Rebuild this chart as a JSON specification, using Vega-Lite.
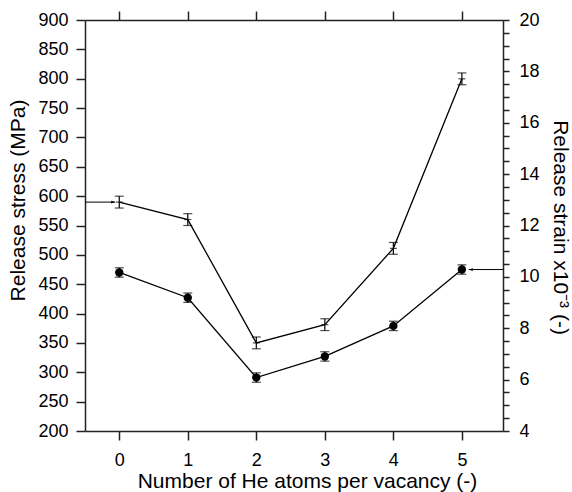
{
  "$schema": "https://vega.github.io/schema/vega-lite/v6.json",
  "width": 418,
  "height": 411,
  "autosize": {"type": "none"},
  "padding": {"left": 85, "top": 20, "right": 69, "bottom": 61},
  "background": "white",
  "config": {
    "font": "Liberation Sans",
    "view": {"stroke": null},
    "axis": {
      "grid": false,
      "domainColor": "#222",
      "domainWidth": 1.5,
      "tickColor": "#222",
      "tickWidth": 1.5,
      "labelFont": "Liberation Sans",
      "labelFontSize": 18,
      "labelColor": "#000",
      "labelOverlap": false,
      "labelFlush": false,
      "titleFont": "Liberation Sans",
      "titleFontSize": 21,
      "titleFontWeight": "normal",
      "titleColor": "#000"
    }
  },
  "datasets": {
    "stress": [
      {"n": 0, "stress": 470, "lo": 462, "hi": 478},
      {"n": 1, "stress": 427, "lo": 419, "hi": 435},
      {"n": 2, "stress": 291, "lo": 283, "hi": 299},
      {"n": 3, "stress": 327, "lo": 319, "hi": 335},
      {"n": 4, "stress": 379, "lo": 371, "hi": 387},
      {"n": 5, "stress": 475, "lo": 467, "hi": 483}
    ],
    "strain": [
      {"n": 0, "strain": 12.91, "lo": 12.68, "hi": 13.14},
      {"n": 1, "strain": 12.23, "lo": 12.0, "hi": 12.46},
      {"n": 2, "strain": 7.43, "lo": 7.2, "hi": 7.66},
      {"n": 3, "strain": 8.14, "lo": 7.91, "hi": 8.37},
      {"n": 4, "strain": 11.11, "lo": 10.88, "hi": 11.34},
      {"n": 5, "strain": 17.71, "lo": 17.48, "hi": 17.94}
    ],
    "arrowL": [{"x": -0.5, "x2": -0.06, "y": 12.91}],
    "arrowR": [{"x": 5.6, "x2": 5.1, "y": 475}]
  },
  "layer": [
    {
      "data": {"name": "stress"},
      "mark": {"type": "line", "color": "#000", "strokeWidth": 1.3},
      "encoding": {
        "x": {
          "field": "n", "type": "quantitative",
          "scale": {"domain": [-0.5, 5.6], "nice": false, "zero": false},
          "axis": {
            "orient": "bottom",
            "values": [0, 1, 2, 3, 4, 5],
            "format": "d",
            "tickSize": 9,
            "labelPadding": 11,
            "title": "Number of He atoms per vacancy (-)",
            "titleX": 222,
            "titleY": 56,
            "titleBaseline": "alphabetic",
            "titleAlign": "center"
          }
        },
        "y": {
          "field": "stress", "type": "quantitative",
          "scale": {"domain": [200, 900], "nice": false, "zero": false},
          "axis": {
            "orient": "left",
            "values": [200, 250, 300, 350, 400, 450, 500, 550, 600, 650, 700, 750, 800, 850, 900],
            "format": "d",
            "tickSize": 9,
            "labelPadding": 8,
            "title": "Release stress (MPa)",
            "titleAngle": 270,
            "titleX": -57,
            "titleY": 180,
            "titleBaseline": "bottom",
            "titleAlign": "center"
          }
        }
      }
    },
    {
      "data": {"name": "strain"},
      "mark": {"type": "line", "color": "#000", "strokeWidth": 1.3},
      "encoding": {
        "x": {
          "field": "n", "type": "quantitative",
          "scale": {"domain": [-0.5, 5.6], "nice": false, "zero": false},
          "axis": {
            "orient": "top",
            "values": [0, 1, 2, 3, 4, 5],
            "tickSize": 9,
            "labels": false,
            "title": null
          }
        },
        "y": {
          "field": "strain", "type": "quantitative",
          "scale": {"domain": [4, 20], "nice": false, "zero": false},
          "axis": {
            "orient": "right",
            "values": [4, 4.5, 5, 5.5, 6, 6.5, 7, 7.5, 8, 8.5, 9, 9.5, 10, 10.5, 11, 11.5, 12, 12.5, 13, 13.5, 14, 14.5, 15, 15.5, 16, 16.5, 17, 17.5, 18, 18.5, 19, 19.5, 20],
            "labelExpr": "datum.value % 2 === 0 ? format(datum.value, 'd') : ''",
            "tickSize": 6,
            "labelPadding": 10,
            "title": "Release strain x10⁻³ (-)",
            "titleAngle": 90,
            "titleX": 46,
            "titleY": 207,
            "titleBaseline": "bottom",
            "titleAlign": "center"
          }
        }
      }
    },
    {
      "data": {"name": "strain"},
      "mark": {"type": "tick", "orient": "horizontal", "color": "#000", "size": 7, "thickness": 1.2},
      "encoding": {
        "x": {"field": "n", "type": "quantitative", "axis": null, "scale": {"domain": [-0.5, 5.6], "nice": false, "zero": false}},
        "y": {"field": "strain", "type": "quantitative", "axis": null, "scale": {"domain": [4, 20], "nice": false, "zero": false}}
      }
    },
    {
      "data": {"name": "stress"},
      "mark": {"type": "rule", "color": "#000", "strokeWidth": 1.2},
      "encoding": {
        "x": {"field": "n", "type": "quantitative", "axis": null, "scale": {"domain": [-0.5, 5.6], "nice": false, "zero": false}},
        "y": {"field": "lo", "type": "quantitative", "axis": null, "scale": {"domain": [200, 900], "nice": false, "zero": false}},
        "y2": {"field": "hi"}
      }
    },
    {
      "data": {"name": "stress"},
      "mark": {"type": "tick", "orient": "horizontal", "color": "#000", "size": 9, "thickness": 1.2},
      "encoding": {
        "x": {"field": "n", "type": "quantitative", "axis": null, "scale": {"domain": [-0.5, 5.6], "nice": false, "zero": false}},
        "y": {"field": "lo", "type": "quantitative", "axis": null, "scale": {"domain": [200, 900], "nice": false, "zero": false}}
      }
    },
    {
      "data": {"name": "stress"},
      "mark": {"type": "tick", "orient": "horizontal", "color": "#000", "size": 9, "thickness": 1.2},
      "encoding": {
        "x": {"field": "n", "type": "quantitative", "axis": null, "scale": {"domain": [-0.5, 5.6], "nice": false, "zero": false}},
        "y": {"field": "hi", "type": "quantitative", "axis": null, "scale": {"domain": [200, 900], "nice": false, "zero": false}}
      }
    },
    {
      "data": {"name": "stress"},
      "mark": {"type": "point", "shape": "circle", "filled": true, "color": "#000", "opacity": 1, "size": 70},
      "encoding": {
        "x": {"field": "n", "type": "quantitative", "axis": null, "scale": {"domain": [-0.5, 5.6], "nice": false, "zero": false}},
        "y": {"field": "stress", "type": "quantitative", "axis": null, "scale": {"domain": [200, 900], "nice": false, "zero": false}}
      }
    },
    {
      "data": {"name": "arrowR"},
      "mark": {"type": "rule", "color": "#000", "strokeWidth": 1},
      "encoding": {
        "x": {"field": "x", "type": "quantitative", "axis": null, "scale": {"domain": [-0.5, 5.6], "nice": false, "zero": false}},
        "x2": {"field": "x2"},
        "y": {"field": "y", "type": "quantitative", "axis": null, "scale": {"domain": [200, 900], "nice": false, "zero": false}}
      }
    },
    {
      "data": {"name": "arrowR"},
      "mark": {"type": "point", "shape": "M0,0L2,-0.7L2,0.7Z", "filled": true, "color": "#000", "opacity": 1, "size": 16},
      "encoding": {
        "x": {"field": "x2", "type": "quantitative", "axis": null, "scale": {"domain": [-0.5, 5.6], "nice": false, "zero": false}},
        "y": {"field": "y", "type": "quantitative", "axis": null, "scale": {"domain": [200, 900], "nice": false, "zero": false}}
      }
    },
    {
      "data": {"name": "strain"},
      "mark": {"type": "rule", "color": "#000", "strokeWidth": 1.2},
      "encoding": {
        "x": {"field": "n", "type": "quantitative", "axis": null, "scale": {"domain": [-0.5, 5.6], "nice": false, "zero": false}},
        "y": {"field": "lo", "type": "quantitative", "axis": null, "scale": {"domain": [4, 20], "nice": false, "zero": false}},
        "y2": {"field": "hi"}
      }
    },
    {
      "data": {"name": "strain"},
      "mark": {"type": "tick", "orient": "horizontal", "color": "#000", "size": 9, "thickness": 1.2},
      "encoding": {
        "x": {"field": "n", "type": "quantitative", "axis": null, "scale": {"domain": [-0.5, 5.6], "nice": false, "zero": false}},
        "y": {"field": "lo", "type": "quantitative", "axis": null, "scale": {"domain": [4, 20], "nice": false, "zero": false}}
      }
    },
    {
      "data": {"name": "strain"},
      "mark": {"type": "tick", "orient": "horizontal", "color": "#000", "size": 9, "thickness": 1.2},
      "encoding": {
        "x": {"field": "n", "type": "quantitative", "axis": null, "scale": {"domain": [-0.5, 5.6], "nice": false, "zero": false}},
        "y": {"field": "hi", "type": "quantitative", "axis": null, "scale": {"domain": [4, 20], "nice": false, "zero": false}}
      }
    },
    {
      "data": {"name": "arrowL"},
      "mark": {"type": "rule", "color": "#000", "strokeWidth": 1},
      "encoding": {
        "x": {"field": "x", "type": "quantitative", "axis": null, "scale": {"domain": [-0.5, 5.6], "nice": false, "zero": false}},
        "x2": {"field": "x2"},
        "y": {"field": "y", "type": "quantitative", "axis": null, "scale": {"domain": [4, 20], "nice": false, "zero": false}}
      }
    },
    {
      "data": {"name": "arrowL"},
      "mark": {"type": "point", "shape": "M0,0L-2,-0.7L-2,0.7Z", "filled": true, "color": "#000", "opacity": 1, "size": 16},
      "encoding": {
        "x": {"field": "x2", "type": "quantitative", "axis": null, "scale": {"domain": [-0.5, 5.6], "nice": false, "zero": false}},
        "y": {"field": "y", "type": "quantitative", "axis": null, "scale": {"domain": [4, 20], "nice": false, "zero": false}}
      }
    }
  ],
  "resolve": {"scale": {"x": "independent", "y": "independent"}, "axis": {"x": "independent", "y": "independent"}}
}
